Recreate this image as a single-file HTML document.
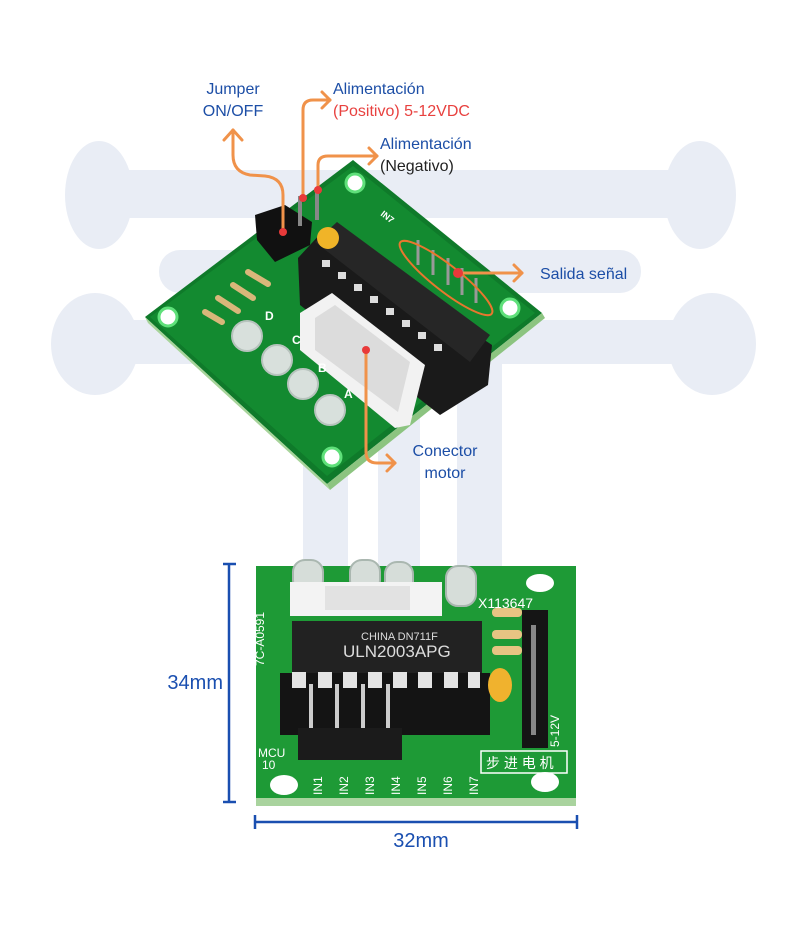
<!DOCTYPE html>
<html><head><meta charset="utf-8"><style>
html,body{margin:0;padding:0;background:#fff;}
svg{display:block;}
text{font-family:"Liberation Sans",sans-serif;}
</style></head><body>
<svg width="800" height="933" viewBox="0 0 800 933" xmlns="http://www.w3.org/2000/svg">
<g fill="#e9edf5">
  <ellipse cx="99" cy="195" rx="34" ry="54"/>
  <ellipse cx="700" cy="195" rx="36" ry="54"/>
  <rect x="99" y="170" width="600" height="48"/>
  <rect x="159" y="250" width="482" height="43" rx="21"/>
  <ellipse cx="95" cy="344" rx="44" ry="51"/>
  <ellipse cx="712" cy="344" rx="44" ry="51"/>
  <rect x="95" y="320" width="617" height="44"/>
  <rect x="303" y="360" width="45" height="210"/>
  <rect x="378" y="360" width="42" height="210"/>
  <rect x="457" y="360" width="45" height="210"/>
</g>

<polygon points="145,317 353,160 542,313 327,484" fill="#0f7a2a"/>
<polygon points="150,317 353,166 535,313 327,476" fill="#138a30"/>
<polygon points="145,317 327,484 330,490 148,323" fill="#a7d49a"/>
<polygon points="327,484 542,313 545,318 330,490" fill="#8cc480"/>
<g fill="#fff" stroke="#5fe07a" stroke-width="3">
  <circle cx="355" cy="183" r="9"/><circle cx="510" cy="308" r="9"/>
  <circle cx="168" cy="317" r="9"/><circle cx="332" cy="457" r="9"/>
</g>
<polygon points="298,258 322,232 492,345 488,385 440,415 300,305" fill="#1a1a1a"/>
<polygon points="315,242 337,222 490,335 470,362" fill="#262626"/>
<g fill="#ddd">
  <rect x="322" y="260" width="8" height="7"/><rect x="338" y="272" width="8" height="7"/>
  <rect x="354" y="284" width="8" height="7"/><rect x="370" y="296" width="8" height="7"/>
  <rect x="386" y="308" width="8" height="7"/><rect x="402" y="320" width="8" height="7"/>
  <rect x="418" y="332" width="8" height="7"/><rect x="434" y="344" width="8" height="7"/>
</g>
<g stroke="#999" stroke-width="3">
  <line x1="418" y1="240" x2="418" y2="265"/><line x1="433" y1="250" x2="433" y2="275"/>
  <line x1="448" y1="258" x2="448" y2="285"/><line x1="462" y1="268" x2="462" y2="295"/>
  <line x1="476" y1="278" x2="476" y2="303"/>
</g>
<g fill="#fff" font-size="9" font-weight="bold"><text x="380" y="215" transform="rotate(38 380 215)">IN7</text></g>
<polygon points="255,215 285,205 312,222 310,245 275,262 257,240" fill="#111"/>
<rect x="298" y="196" width="4" height="30" fill="#888"/><rect x="315" y="190" width="4" height="30" fill="#888"/>
<circle cx="328" cy="238" r="11" fill="#f0b428"/>
<g stroke="#d9b77a" stroke-width="6" stroke-linecap="round">
  <line x1="248" y1="272" x2="268" y2="284"/><line x1="233" y1="285" x2="253" y2="298"/>
  <line x1="218" y1="298" x2="238" y2="311"/><line x1="205" y1="312" x2="222" y2="322"/>
</g>
<polygon points="300,313 332,293 425,365 410,425 395,428 300,350" fill="#f2f2f2"/>
<polygon points="315,318 335,305 410,362 398,412 315,350" fill="#dcdcdc"/>
<g fill="#d8e0dc" stroke="#b7c3bd" stroke-width="2">
  <circle cx="247" cy="336" r="15"/><circle cx="277" cy="360" r="15"/>
  <circle cx="303" cy="384" r="15"/><circle cx="330" cy="410" r="15"/>
</g>
<g fill="#fff" font-size="12" font-weight="bold">
  <text x="265" y="320">D</text><text x="292" y="344">C</text><text x="318" y="372">B</text><text x="344" y="398">A</text>
</g>

<g fill="none" stroke="#f0924a" stroke-width="3" stroke-linecap="round" stroke-linejoin="round">
  <path d="M283,232 L283,195 Q283,178 265,176 L250,175 Q233,172 233,155 L233,130"/>
  <path d="M224,140 L233,130 L242,140"/>
  <path d="M303,198 L303,110 Q303,100 313,100 L330,100"/>
  <path d="M322,92 L330,100 L322,108"/>
  <path d="M318,190 L318,165 Q318,156 328,156 L377,156"/>
  <path d="M369,148 L377,156 L369,164"/>
  <path d="M458,273 L522,273"/>
  <path d="M514,265 L522,273 L514,281"/>
  <path d="M366,350 L366,452 Q366,463 377,463 L395,463"/>
  <path d="M387,455 L395,463 L387,471"/>
</g>
<ellipse cx="446" cy="278" rx="58" ry="13" transform="rotate(38 446 278)" fill="none" stroke="#e8772e" stroke-width="2"/>
<g fill="#e83a3a">
  <circle cx="283" cy="232" r="4"/><circle cx="303" cy="198" r="4"/><circle cx="318" cy="190" r="4"/>
  <circle cx="458" cy="273" r="5"/><circle cx="366" cy="350" r="4"/>
</g>
<g font-size="16" fill="#1c4ea6">
  <text x="233" y="94" text-anchor="middle">Jumper</text>
  <text x="233" y="116" text-anchor="middle">ON/OFF</text>
  <text x="333" y="94">Alimentación</text>
  <text x="333" y="116" fill="#e8413f">(Positivo) 5-12VDC</text>
  <text x="380" y="149">Alimentación</text>
  <text x="380" y="171" fill="#222">(Negativo)</text>
  <text x="540" y="279">Salida señal</text>
  <text x="445" y="456" text-anchor="middle">Conector</text>
  <text x="445" y="478" text-anchor="middle">motor</text>
</g>

<rect x="256" y="566" width="320" height="240" fill="#1e9a36"/>
<rect x="256" y="798" width="320" height="8" fill="#a9d39e"/>
<g fill="#fff"><ellipse cx="284" cy="785" rx="14" ry="10"/><ellipse cx="545" cy="782" rx="14" ry="10"/><ellipse cx="540" cy="583" rx="14" ry="9"/></g>
<g fill="#d6ddd9" stroke="#aab7b0" stroke-width="2">
  <rect x="293" y="560" width="30" height="32" rx="12"/><rect x="350" y="560" width="30" height="32" rx="12"/>
  <rect x="385" y="562" width="28" height="32" rx="12"/><rect x="446" y="566" width="30" height="40" rx="12"/>
</g>
<rect x="290" y="582" width="152" height="34" fill="#f3f3f3"/>
<rect x="325" y="586" width="85" height="24" fill="#e2e2e2"/>
<text x="478" y="608" font-size="14" fill="#fff" font-family="Liberation Mono">X113647</text>
<rect x="280" y="673" width="210" height="62" fill="#141414"/>
<rect x="292" y="621" width="190" height="52" fill="#222"/>
<g fill="#e4e4e4">
  <rect x="292" y="672" width="14" height="16"/><rect x="318" y="672" width="14" height="16"/>
  <rect x="343" y="672" width="14" height="16"/><rect x="368" y="672" width="14" height="16"/>
  <rect x="393" y="672" width="14" height="16"/><rect x="418" y="672" width="14" height="16"/>
  <rect x="444" y="672" width="14" height="16"/><rect x="468" y="672" width="12" height="16"/>
</g>
<text x="361" y="640" font-size="11" fill="#ddd">CHINA  DN711F</text>
<text x="343" y="657" font-size="17" fill="#ddd">ULN2003APG</text>
<g fill="#ccc"><rect x="309" y="684" width="4" height="50"/><rect x="335" y="684" width="4" height="50"/><rect x="361" y="684" width="4" height="50"/><rect x="386" y="684" width="4" height="50"/></g>
<rect x="298" y="728" width="104" height="32" fill="#1b1b1b"/>
<g fill="#e7c483"><rect x="492" y="608" width="30" height="9" rx="4"/><rect x="492" y="630" width="30" height="9" rx="4"/><rect x="492" y="646" width="30" height="9" rx="4"/></g>
<ellipse cx="500" cy="685" rx="12" ry="17" fill="#f0b22e"/>
<rect x="522" y="610" width="26" height="138" fill="#151515"/>
<rect x="531" y="625" width="5" height="110" fill="#888"/>
<g fill="#fff" font-size="12" font-family="Liberation Mono">
  <text x="258" y="757">MCU</text><text x="262" y="769">10</text>
  <text x="559" y="747" transform="rotate(-90 559 747)">5-12V</text>
  <text x="264" y="666" transform="rotate(-90 264 666)">7C-A0591</text>
</g>
<rect x="481" y="751" width="86" height="22" fill="none" stroke="#fff" stroke-width="1.5"/>
<text x="486" y="768" font-size="14" fill="#fff" font-family="'Liberation Sans','Noto Sans CJK SC',sans-serif">步 进 电 机</text>
<g fill="#fff" font-size="12" font-family="Liberation Mono">
  <text x="322" y="795" transform="rotate(-90 322 795)">IN1</text>
  <text x="348" y="795" transform="rotate(-90 348 795)">IN2</text>
  <text x="374" y="795" transform="rotate(-90 374 795)">IN3</text>
  <text x="400" y="795" transform="rotate(-90 400 795)">IN4</text>
  <text x="426" y="795" transform="rotate(-90 426 795)">IN5</text>
  <text x="452" y="795" transform="rotate(-90 452 795)">IN6</text>
  <text x="478" y="795" transform="rotate(-90 478 795)">IN7</text>
</g>

<g stroke="#1a4fb0" stroke-width="2.5" fill="none">
  <line x1="229" y1="564" x2="229" y2="802"/><line x1="223" y1="564" x2="236" y2="564"/><line x1="223" y1="802" x2="236" y2="802"/>
  <line x1="255" y1="822" x2="577" y2="822"/><line x1="255" y1="815" x2="255" y2="829"/><line x1="577" y1="815" x2="577" y2="829"/>
</g>
<text x="223" y="689" font-size="20" fill="#1a4fb0" text-anchor="end">34mm</text>
<text x="421" y="847" font-size="20" fill="#1a4fb0" text-anchor="middle">32mm</text>
</svg>
</body></html>
